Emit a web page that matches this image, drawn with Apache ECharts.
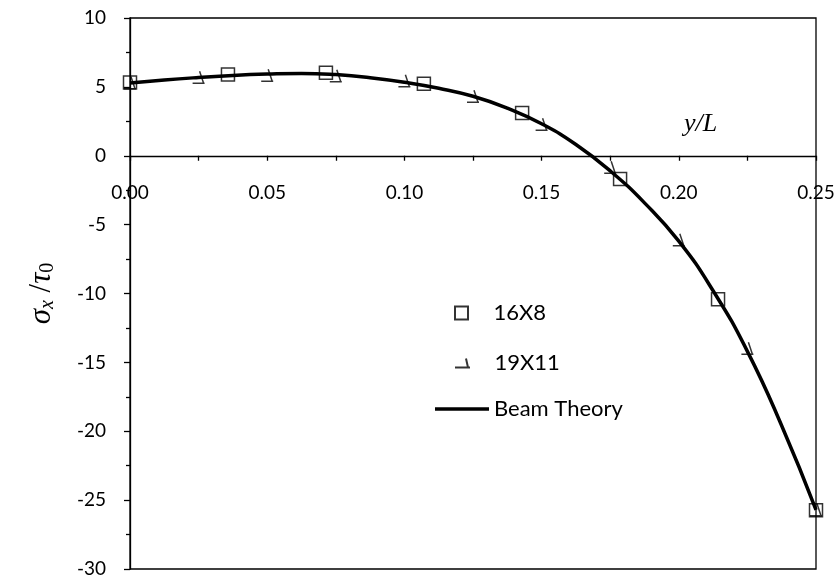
<!DOCTYPE html>
<html><head><meta charset="utf-8">
<script src="https://cdn.jsdelivr.net/npm/echarts@6/dist/echarts.min.js"></script>
<style>html,body{margin:0;padding:0;background:#fff}#c{width:836px;height:580px}</style>
</head><body><div id="c"></div>
<script>
// Beam theory curve
const beamX = [0,0.0125,0.025,0.0375,0.05,0.0625,0.075,0.0875,0.1,0.1125,0.125,0.1375,0.15,0.1625,0.175,0.1875,0.2,0.2125,0.225,0.2375,0.25];
const beamY = [5.28,5.50,5.68,5.83,5.93,5.98,5.89,5.67,5.34,4.90,4.32,3.46,2.32,0.82,-1.10,-3.42,-6.20,-9.80,-14.20,-19.60,-25.70];
// 16X8 mesh
const x16 = [0,0.0357,0.0714,0.1071,0.1429,0.1786,0.2143,0.25];
const y16 = [5.31,5.89,6.03,5.23,3.10,-1.69,-10.41,-25.73];
// 19X11 mesh
const x19 = [0,0.025,0.05,0.075,0.1,0.125,0.15,0.175,0.2,0.225,0.25];
const y19 = [5.30,5.70,5.85,5.80,5.45,4.32,2.29,-0.84,-6.10,-13.98,-25.70];
const seriesNames = ['16X8','19X11','Beam Theory'];
const xMin = 0, xMax = 0.25, xStep = 0.05;
const yMin = -30, yMax = 10, yStep = 5;

const zip = (a,b) => a.map((v,i)=>[v,b[i]]);
const sqPath = 'path://M0,0L10,0L10,10L0,10Z';
const hookPath = 'path://M0,12L12,12M7,0L11,12';
const hookLegend = 'path://M0,9L15,9M11,0L13,9';
const tickFont = {fontFamily:'Lato', fontSize:19, color:'#000'};
const legText = {fontFamily:'Lato', fontSize:22, color:'#000'};

const H = 580, gridTop = 18, gridBottom = 11;
const plotH = H - gridTop - gridBottom;
// distance (px) from bottom of plot up to the y=0 line
const zeroOffset = plotH * (0 - yMin) / (yMax - yMin);

const chart = echarts.init(document.getElementById('c'), null, {renderer:'canvas'});
chart.setOption({
  animation:false,
  backgroundColor:'#fff',
  grid:{left:130, right:20, top:gridTop, bottom:gridBottom, show:true, borderColor:'#000', borderWidth:1.3,
        backgroundColor:'transparent', containLabel:false, outerBoundsMode:'none'},
  xAxis:{type:'value', min:xMin, max:xMax, interval:xStep, position:'bottom', offset:-zeroOffset,
    axisLine:{show:true, onZero:false, lineStyle:{color:'#000', width:1.3}},
    axisTick:{show:true, length:5, lineStyle:{color:'#000', width:1.3}},
    minorTick:{show:true, splitNumber:2, length:5, lineStyle:{color:'#000', width:1.3}},
    axisLabel:Object.assign({margin:28, formatter:v=>v.toFixed(2), showMinLabel:true, showMaxLabel:true, hideOverlap:false}, tickFont),
    splitLine:{show:false}},
  yAxis:{type:'value', min:yMin, max:yMax, interval:yStep,
    axisLine:{show:true, onZero:false, lineStyle:{color:'#000', width:1.3}},
    axisTick:{show:true, length:6, lineStyle:{color:'#000', width:1.3}},
    minorTick:{show:true, splitNumber:2, length:4, lineStyle:{color:'#000', width:1.3}},
    axisLabel:Object.assign({margin:24}, tickFont),
    splitLine:{show:false},
    name:'{s|σ}{sub|x}{n| /}{s|τ}{sub0|0}',
    nameLocation:'middle', nameRotate:90, nameGap:72,
    nameTextStyle:{rich:{
      s:{fontFamily:'Liberation Serif', fontStyle:'italic', fontSize:31, lineHeight:32, verticalAlign:'middle', color:'#000'},
      n:{fontFamily:'Liberation Serif', fontSize:31, lineHeight:32, color:'#000'},
      sub:{fontFamily:'Liberation Serif', fontStyle:'italic', fontSize:20, lineHeight:18, verticalAlign:'bottom', color:'#000'},
      sub0:{fontFamily:'Liberation Serif', fontSize:20, lineHeight:18, verticalAlign:'bottom', color:'#000'}
    }}
  },
  legend:[
    {data:[{name:seriesNames[0], icon:sqPath}], orient:'vertical', left:454, top:302, padding:0, itemWidth:54, itemHeight:13, textStyle:legText, selectedMode:false},
    {data:[{name:seriesNames[1], icon:hookLegend}], orient:'vertical', left:454, top:352, padding:0, itemWidth:54, itemHeight:9, textStyle:legText, selectedMode:false},
    {data:[{name:seriesNames[2], icon:'rect'}], orient:'vertical', left:435, top:398, padding:0, itemWidth:54, itemHeight:3.5, textStyle:legText, selectedMode:false}
  ],
  graphic:[{type:'text', left:684, top:111, style:{text:'y/L', font:'italic 26px "Liberation Serif"', fill:'#000'}}],
  series:[
    {name:seriesNames[0], type:'scatter', data:zip(x16,y16), symbol:sqPath, symbolSize:13, z:3,
      itemStyle:{color:'transparent', borderColor:'#000', borderWidth:1.5}},
    {name:seriesNames[1], type:'scatter', data:zip(x19,y19), symbol:hookPath, symbolSize:12, z:3,
      itemStyle:{color:'transparent', borderColor:'#000', borderWidth:1.5}},
    {name:seriesNames[2], type:'line', data:zip(beamX,beamY), smooth:true, symbol:'none', z:4,
      lineStyle:{color:'#000', width:3.5}, itemStyle:{color:'#000'}}
  ]
});
</script></body></html>
